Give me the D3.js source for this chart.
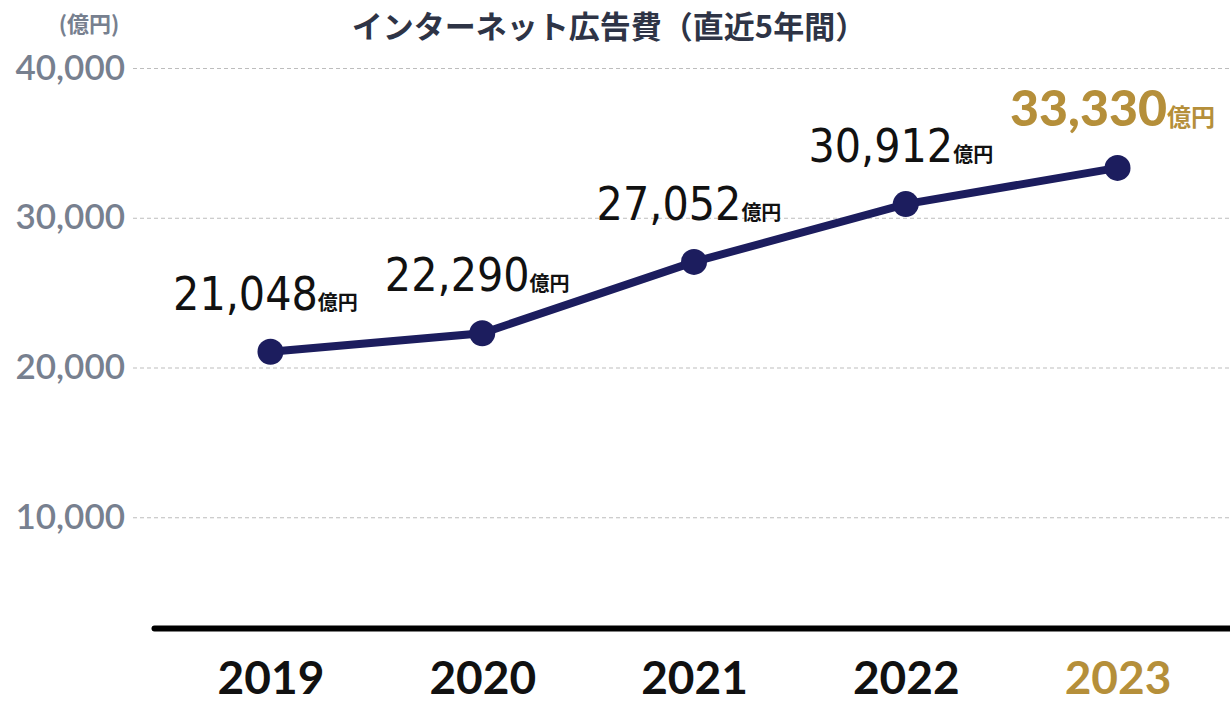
<!DOCTYPE html>
<html>
<head>
<meta charset="utf-8">
<script src="https://cdn.jsdelivr.net/npm/d3@7"></script>
<style>
  body { margin: 0; background: #fff; }
  svg { display: block; }
</style>
</head>
<body>
<div id="chart"></div>
<script>
// data
const years = ['2019', '2020', '2021', '2022', '2023'];
const values = [21048, 22290, 27052, 30912, 33330];
const yTicks = [10000, 20000, 30000, 40000];
const unit = '億円';
const title = 'インターネット広告費（直近5年間）';

const width = 1230;
const height = 705;
const navy = '#1c1d5e';
const gold = '#b58f3a';
const grey = '#77808f';

const svg = d3.select('#chart')
  .append('svg')
  .attr('width', width)
  .attr('height', height);

const x = d3.scalePoint()
  .domain(years)
  .range([154, 1234])
  .padding(0.55);

const y = d3.scaleLinear()
  .domain([0, 40000])
  .range([667, 68]);

// y grid + labels
const yAxis = svg.append('g')
  .attr('transform', 'translate(133,0)')
  .call(d3.axisLeft(y).tickValues(yTicks).tickFormat(d3.format(',')).tickSize(-(width - 133)).tickPadding(8));
yAxis.select('.domain').remove();
yAxis.selectAll('.tick line')
  .attr('stroke', '#bdbdbd')
  .attr('stroke-dasharray', '4,3');
yAxis.selectAll('.tick text')
  .attr('fill', grey)
  .attr('font-family', 'Lato, sans-serif')
  .attr('font-weight', 600)
  .attr('font-size', 35);

svg.append('text')
  .attr('x', 89)
  .attr('y', 32)
  .attr('text-anchor', 'middle')
  .attr('fill', grey)
  .attr('font-family', '"Noto Sans CJK JP", sans-serif')
  .attr('font-weight', 700)
  .attr('font-size', 22)
  .text('(億円)');

svg.append('text')
  .attr('x', 609)
  .attr('y', 38)
  .attr('text-anchor', 'middle')
  .attr('fill', '#2e3446')
  .attr('font-family', '"Noto Sans CJK JP", sans-serif')
  .attr('font-weight', 700)
  .attr('font-size', 31)
  .text(title);

// x axis
const xAxis = svg.append('g')
  .attr('transform', 'translate(0,628)')
  .call(d3.axisBottom(x).tickSize(0).tickSizeOuter(0).tickPadding(33));
xAxis.select('.domain')
  .attr('stroke', '#000')
  .attr('stroke-width', 6)
  .attr('stroke-linecap', 'round');
xAxis.selectAll('.tick text')
  .attr('fill', d => d === '2023' ? gold : '#111')
  .attr('font-family', 'Lato, sans-serif')
  .attr('font-weight', 700)
  .attr('font-size', 46);

const data = years.map((d, i) => ({ year: d, value: values[i] }));

const line = d3.line()
  .x(d => x(d.year))
  .y(d => y(d.value));

svg.append('path')
  .datum(data)
  .attr('fill', 'none')
  .attr('stroke', navy)
  .attr('stroke-width', 8)
  .attr('d', line);

svg.selectAll('circle.dot')
  .data(data)
  .join('circle')
  .attr('class', 'dot')
  .attr('cx', d => x(d.year))
  .attr('cy', d => y(d.value))
  .attr('r', 13)
  .attr('fill', navy);

// value labels
const last = data.length - 1;
const labels = svg.selectAll('text.val')
  .data(data)
  .join('text')
  .attr('class', 'val')
  .attr('x', d => x(d.year) - 5)
  .attr('y', d => y(d.value) - 42)
  .attr('text-anchor', 'middle')
  .attr('fill', (d, i) => i === last ? gold : '#111');

labels.append('tspan')
  .attr('font-family', (d, i) => i === last ? 'Lato, sans-serif' : '"DejaVu Sans Condensed", "DejaVu Sans", sans-serif')
  .attr('font-stretch', (d, i) => i === last ? null : 'condensed')
  .attr('font-weight', (d, i) => i === last ? 900 : 400)
  .attr('font-size', (d, i) => i === last ? 50 : 46)
  .text(d => d3.format(',')(d.value));

labels.append('tspan')
  .attr('font-family', '"Noto Sans CJK JP", sans-serif')
  .attr('font-weight', 700)
  .attr('font-size', (d, i) => i === last ? 24 : 20)
  .text(unit);
</script>
</body>
</html>
